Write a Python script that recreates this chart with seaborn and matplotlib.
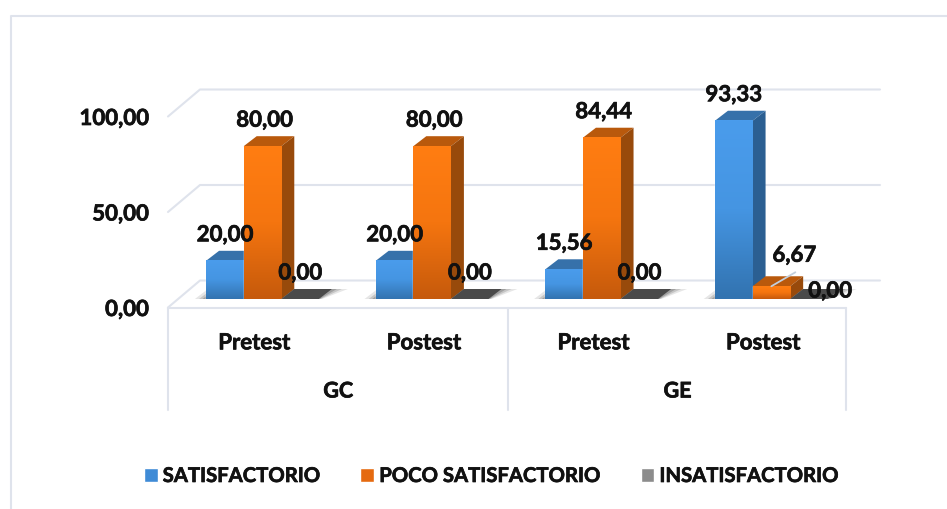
"""Grouped pseudo-3D bar chart of satisfaction levels, pretest and postest."""

from __future__ import annotations

import matplotlib

matplotlib.use("Agg")

import matplotlib.patheffects as pe
import matplotlib.pyplot as plt
import numpy as np
import pandas as pd
import seaborn as sns
from matplotlib.colors import LinearSegmentedColormap
from matplotlib.lines import Line2D
from matplotlib.patches import Polygon
from matplotlib.text import Text
from matplotlib.transforms import Affine2D, IdentityTransform

CATEGORIES = ["GC Pretest", "GC Postest", "GE Pretest", "GE Postest"]
TICK_LABELS = ["Pretest", "Postest", "Pretest", "Postest"]
GROUPS = ["GC", "GE"]
SERIES = ["SATISFACTORIO", "POCO SATISFACTORIO", "INSATISFACTORIO"]
SATISFACTORIO = [20.00, 20.00, 15.56, 93.33]
POCO = [80.00, 80.00, 84.44, 6.67]
INSATISFACTORIO = [0.00, 0.00, 0.00, 0.00]
Y_TICKS = [0, 50, 100]

W, H = 947, 510
GRID = "#dfe3ec"
INK = "#111111"
PALETTE = ["#3f8bd6", "#e56a10", "#8c8c8c"]
CAPS = ["#3671aa", "#b9590c", "#4a4a4a"]
SIDES = ["#2b5f92", "#984a0b", "#4a4a4a"]
RAMPS = [
    ["#4a9cec", "#4595e2", "#3273b0"],
    ["#ff7d12", "#f5750f", "#c65a0c"],
    ["#8c8c8c", "#8c8c8c", "#8c8c8c"],
]
DEPTH = (13, 10)


def px_line(fig, pts) -> None:
    """Light frame or grid line given in display pixels."""
    xs, ys = zip(*pts)
    fig.add_artist(
        Line2D(xs, ys, color=GRID, lw=1.5, transform=IdentityTransform(), zorder=0)
    )


def main() -> None:
    sns.set_theme(style="white")
    plt.rcParams["font.family"] = ["Lato", "DejaVu Sans"]
    plt.rcParams["font.weight"] = "bold"

    df = pd.DataFrame(
        {
            "cat": CATEGORIES * 3,
            "serie": np.repeat(SERIES, 4),
            "valor": SATISFACTORIO + POCO + INSATISFACTORIO,
        }
    )

    fig = plt.figure(figsize=(W / 100, H / 100), dpi=100)
    ax = fig.add_axes([168 / W, (H - 300) / H, (846 - 168) / W, 191 / H])
    ax.patch.set_alpha(0)
    sns.barplot(
        data=df,
        x="cat",
        y="valor",
        hue="serie",
        palette=PALETTE,
        width=0.665,
        gap=0,
        saturation=1,
        errorbar=None,
        ax=ax,
        legend=True,
        zorder=3,
    )
    handles, labels = ax.get_legend_handles_labels()
    ax.get_legend().remove()

    ax.set_xlim(-0.557, 3.44)
    ax.set_ylim(0, 100)
    sns.despine(ax=ax, left=True, bottom=True)
    ax.set_xlabel("")
    ax.set_ylabel("")
    ax.set_yticks(Y_TICKS, [f"{v:.2f}".replace(".", ",") for v in Y_TICKS])
    ax.set_xticks(range(4), TICK_LABELS)
    ax.tick_params(axis="y", length=0, pad=14, labelsize=16, colors=INK)
    ax.tick_params(axis="x", length=0, pad=24, labelsize=16, colors=INK)
    for lab in ax.get_yticklabels():
        lab.set_transform(lab.get_transform() + Affine2D().translate(0, -8.5))
    for lab in ax.get_xticklabels():
        lab.set_transform(lab.get_transform() + Affine2D().translate(-8, 0))

    # walls and floor, in pixels relative to the value axis
    to_px = ax.transData.transform
    x0, x1 = ax.get_xlim()
    left = to_px((x0, 0))[0]
    right = to_px((x1, 0))[0]
    for v in Y_TICKS:
        y = to_px((x0, v))[1]
        px_line(fig, [(left, y - 8.5), (left + 32, y + 18.5), (right + 34, y + 18.5)])

    floor = to_px((x0, 0))[1] - 8.5
    px_line(fig, [(left, floor), (right, floor)])
    mid = to_px((1.5, 0))[0] - 9
    for x in (left, mid, right):
        px_line(fig, [(x, floor), (x, floor - 102)])

    # outer frame of the picture
    px_line(fig, [(11, 0), (11, H - 17), (W, H - 17)])

    dx, dy = DEPTH
    for i in range(4):
        first = ax.containers[0][i]
        last = ax.containers[2][i]
        a = to_px((first.get_x(), 0))
        b = to_px((last.get_x() + last.get_width(), 0))
        for spread, alpha in ((16, 0.12), (10, 0.18), (5, 0.25)):
            ax.add_patch(
                Polygon(
                    [
                        (a[0] - spread * 0.7, a[1]),
                        (b[0] + spread * 0.2, a[1]),
                        (b[0] + dx + spread, a[1] + dy),
                        (a[0] + dx - spread * 0.7, a[1] + dy),
                    ],
                    color="#333333",
                    alpha=alpha,
                    lw=0,
                    transform=IdentityTransform(),
                    clip_on=False,
                    zorder=2,
                )
            )

    # every bar gets its gradient front, cap and side from its own rectangle
    for s, container in enumerate(ax.containers):
        cmap = LinearSegmentedColormap.from_list(f"ramp{s}", RAMPS[s])
        for rect in container:
            z = 3 + s
            rect.set_zorder(z)
            bx, bw, bh = rect.get_x(), rect.get_width(), rect.get_height()
            (px0, py0), (px1, py1) = to_px((bx, 0)), to_px((bx + bw, bh))
            ax.add_patch(
                Polygon(
                    [
                        (px0, py1),
                        (px1, py1),
                        (px1 + dx, py1 + dy),
                        (px0 + dx, py1 + dy),
                    ],
                    color=CAPS[s],
                    lw=0,
                    transform=IdentityTransform(),
                    clip_on=False,
                    zorder=z,
                )
            )
            if bh > 0:
                ax.add_patch(
                    Polygon(
                        [
                            (px1, py0),
                            (px1 + dx, py0 + dy),
                            (px1 + dx, py1 + dy),
                            (px1, py1),
                        ],
                        color=SIDES[s],
                        lw=0,
                        transform=IdentityTransform(),
                        clip_on=False,
                        zorder=z,
                    )
                )
                grad = np.linspace(0, 1, 64).reshape(-1, 1)
                ax.imshow(
                    grad,
                    extent=(bx, bx + bw, 0, bh),
                    aspect="auto",
                    cmap=cmap,
                    zorder=z + 0.1,
                    interpolation="bilinear",
                )
    ax.set_xlim(x0, x1)
    ax.set_ylim(0, 100)

    # data labels
    nudges = {(0, i): (0, 26) for i in range(4)}
    nudges.update({(1, i): (2, 26) for i in range(4)})
    nudges.update({(2, i): (0, 26) for i in range(4)})
    nudges[(1, 3)] = (23, 31)
    nudges[(2, 3)] = (21, 8)
    for s, container in enumerate(ax.containers):
        for i, rect in enumerate(container):
            h = rect.get_height()
            ax.annotate(
                f"{h:.2f}".replace(".", ","),
                xy=(rect.get_x() + rect.get_width() / 2, h),
                xytext=nudges[(s, i)],
                textcoords="offset pixels",
                ha="center",
                va="center",
                fontsize=16,
                color=INK,
                annotation_clip=False,
                zorder=10,
            )

    # leader line of the small orange bar
    rect = ax.containers[1][3]
    lx, ly = to_px((rect.get_x() + rect.get_width() / 2, rect.get_height()))
    fig.add_artist(
        Line2D(
            [lx, lx + 24],
            [ly, ly + 14],
            color="#c3cfdc",
            lw=1.3,
            transform=IdentityTransform(),
            zorder=9,
        )
    )

    # group level of the category axis
    for g, group in enumerate(GROUPS):
        ax.annotate(
            group,
            xy=(0.5 + 2 * g, 0),
            xytext=(-9, -92),
            textcoords="offset pixels",
            ha="center",
            va="center",
            fontsize=15.5,
            color=INK,
            annotation_clip=False,
        )

    for handle, color in zip(handles, PALETTE):
        handle.set_facecolor(color)
    fig.legend(
        handles,
        labels,
        loc="center",
        bbox_to_anchor=(491 / W, (H - 477) / H),
        ncol=3,
        frameon=False,
        fontsize=14.6,
        labelcolor=INK,
        handlelength=0.68,
        handleheight=0.68,
        handletextpad=0.25,
        columnspacing=2.0,
        borderpad=0,
    )

    # Calibri bold in the original is heavier than Lato bold
    for text in fig.findobj(Text):
        text.set_path_effects([pe.withStroke(linewidth=0.5, foreground=INK)])

    fig.savefig("out.png", dpi=100, facecolor="white")


if __name__ == "__main__":
    main()
